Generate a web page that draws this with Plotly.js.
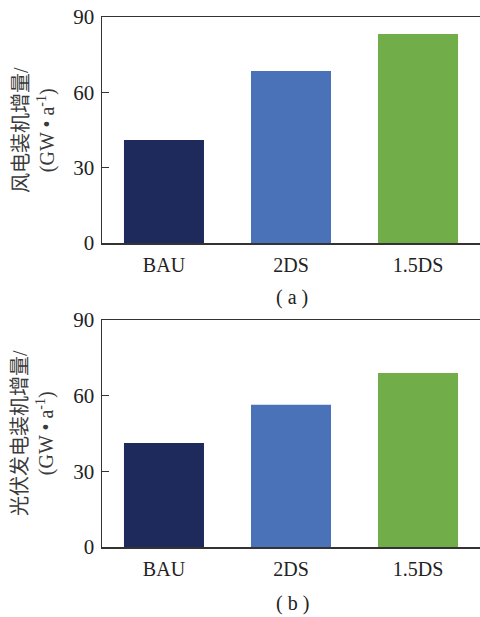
<!DOCTYPE html>
<html>
<head>
<meta charset="utf-8">
<script src="https://cdn.plot.ly/plotly-3.0.1.min.js"></script>
<style>html,body{margin:0;padding:0;background:#fff;}#chart{width:480px;height:617px;}</style>
</head>
<body>
<div id="chart"></div>
<script>
const categories = ["BAU", "2DS", "1.5DS"];
const windValues = [41.0, 68.5, 83.2];
const pvValues = [41.2, 56.4, 69.0];
const barColors = ["#1f2a5c", "#4a72b8", "#71ad48"];
const yTicks = [0, 30, 60, 90];
const windTitle = "风电装机增量/<br>(GW • a<sup>-1</sup>)";
const pvTitle = "光伏发电装机增量/<br>(GW • a<sup>-1</sup>)";
const captions = ["( a )", "( b )"];

const H = 617, W = 480;
const serif = "Liberation Serif, Times New Roman, Noto Sans CJK SC, serif";
const cjk = "Liberation Serif, Noto Sans CJK SC, serif";

const traces = [
  {type: "bar", x: categories, y: windValues, marker: {color: barColors}, width: 0.63, xaxis: "x", yaxis: "y", hoverinfo: "none"},
  {type: "bar", x: categories, y: pvValues, marker: {color: barColors}, width: 0.63, xaxis: "x2", yaxis: "y2", hoverinfo: "none"}
];

function xAxis(anchor) {
  return {
    domain: [102/W, 1], anchor: anchor, range: [-0.488, 2.488],
    showline: true, mirror: true, linecolor: "#333", linewidth: 1.5,
    ticks: "", showgrid: false, zeroline: false,
    tickfont: {family: serif, size: 20, color: "#222"}, ticklabelstandoff: 3
  };
}
function yAxis(anchor, top, bottom) {
  return {
    domain: [(H - bottom)/H, (H - top)/H], anchor: anchor, range: [0, 90],
    tickvals: yTicks, ticktext: yTicks.map(String),
    showline: true, mirror: true, linecolor: "#333", linewidth: 1.5,
    ticks: "inside", ticklen: 7, tickwidth: 1.5, tickcolor: "#333",
    showgrid: false, zeroline: false,
    tickfont: {family: serif, size: 21, color: "#222"}, ticklabelstandoff: 2
  };
}

const layout = {
  width: W, height: H,
  margin: {l: 0, r: 0, t: 0, b: 0},
  paper_bgcolor: "#fff", plot_bgcolor: "#fff",
  showlegend: false,
  xaxis: xAxis("y"), yaxis: yAxis("x", 17, 243),
  xaxis2: xAxis("y2"), yaxis2: yAxis("x2", 320, 547),
  annotations: [
    {xref: "paper", yref: "paper", x: 34/W, y: (H - 130)/H, text: windTitle, textangle: -90, showarrow: false,
     xanchor: "center", yanchor: "middle", font: {family: cjk, size: 20, color: "#3a3a3a"}},
    {xref: "paper", yref: "paper", x: 34/W, y: (H - 433)/H, text: pvTitle, textangle: -90, showarrow: false,
     xanchor: "center", yanchor: "middle", font: {family: cjk, size: 20, color: "#3a3a3a"}},
    {xref: "paper", yref: "paper", x: 292/W, y: (H - 297)/H, text: captions[0], showarrow: false,
     xanchor: "center", yanchor: "middle", font: {family: serif, size: 20, color: "#222"}},
    {xref: "paper", yref: "paper", x: 292/W, y: (H - 603)/H, text: captions[1], showarrow: false,
     xanchor: "center", yanchor: "middle", font: {family: serif, size: 20, color: "#222"}}
  ]
};

Plotly.newPlot("chart", traces, layout, {staticPlot: true, displayModeBar: false});
</script>
</body>
</html>
